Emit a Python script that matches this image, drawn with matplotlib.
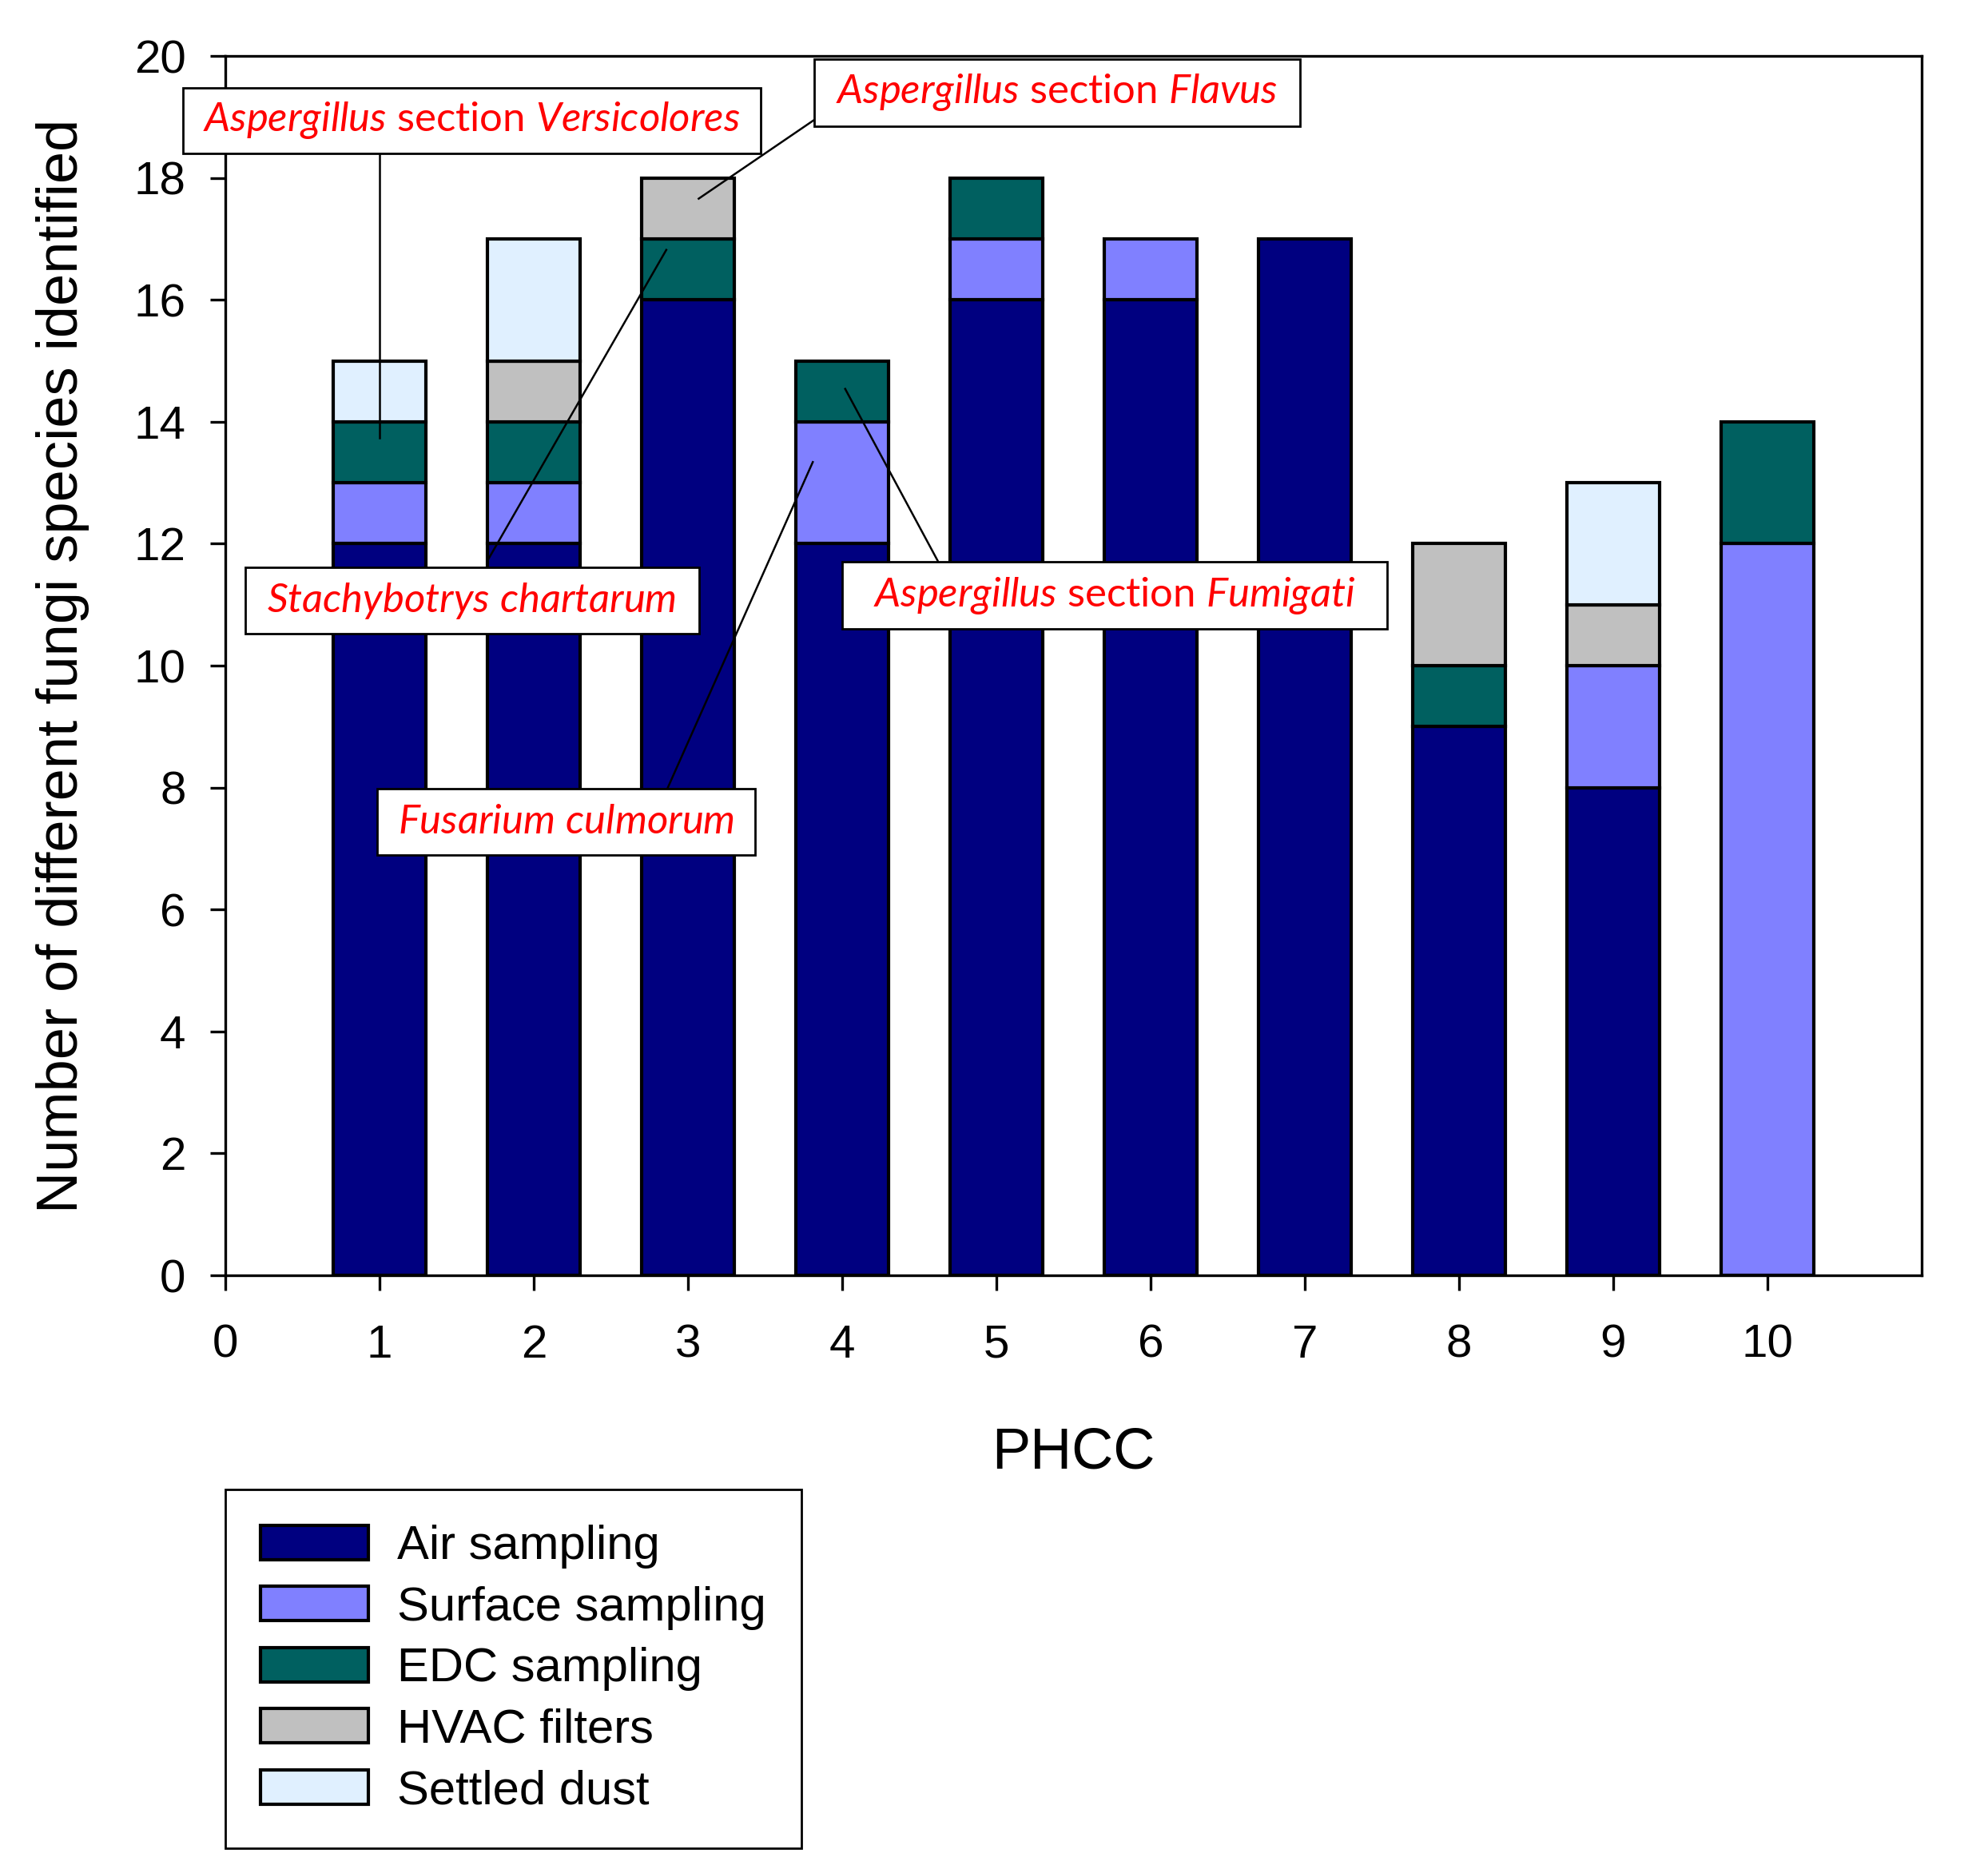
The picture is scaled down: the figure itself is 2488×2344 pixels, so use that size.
import matplotlib
matplotlib.use('Agg')
import matplotlib.pyplot as plt
from matplotlib.patches import Rectangle
import numpy as np

# PHCC sites and number of fungal species per sampling method
phcc = [1, 2, 3, 4, 5, 6, 7, 8, 9, 10]
air_sampling = [12, 12, 16, 12, 16, 16, 17, 9, 8, 0]
surface_sampling = [1, 1, 0, 2, 1, 1, 0, 0, 2, 12]
edc_sampling = [1, 1, 1, 1, 1, 0, 0, 1, 0, 2]
hvac_filters = [0, 1, 1, 0, 0, 0, 0, 2, 1, 0]
settled_dust = [1, 2, 0, 0, 0, 0, 0, 0, 2, 0]

series_names = ['Air sampling', 'Surface sampling', 'EDC sampling', 'HVAC filters', 'Settled dust']
series_colors = ['#000080', '#8080FF', '#006060', '#C0C0C0', '#E0F0FF']

x_ticks = [0, 1, 2, 3, 4, 5, 6, 7, 8, 9, 10]
y_ticks = [0, 2, 4, 6, 8, 10, 12, 14, 16, 18, 20]

plt.rcParams['font.family'] = ['Liberation Sans', 'DejaVu Sans']
plt.rcParams['mathtext.fontset'] = 'custom'
plt.rcParams['mathtext.rm'] = 'Lato'
plt.rcParams['mathtext.it'] = 'Lato:italic'

fig = plt.figure(figsize=(12.44, 11.72), dpi=200)
ax = fig.add_axes([0.1133, 0.3191, 0.8533, 0.6510])

# Stacked bars
bottom = np.zeros(len(phcc))
handles = []
for name, vals, col in zip(series_names,
                           [air_sampling, surface_sampling, edc_sampling, hvac_filters, settled_dust],
                           series_colors):
    vals = np.array(vals, dtype=float)
    mask = vals > 0
    b = ax.bar(np.array(phcc)[mask], vals[mask], width=0.6, bottom=bottom[mask],
               color=col, edgecolor='black', linewidth=1.5, label=name, zorder=2)
    handles.append(b)
    bottom += vals

ax.set_xlim(0, 11)
ax.set_ylim(0, 20)
ax.set_xticks(x_ticks)
ax.set_yticks(y_ticks)
ax.tick_params(axis='both', direction='out', length=6.8, width=1.2, labelsize=21)
ax.tick_params(axis='x', pad=15)
ax.tick_params(axis='y', pad=11)
for s in ax.spines.values():
    s.set_linewidth(1.2)

ax.set_xlabel('PHCC', fontsize=26, labelpad=27)
ax.set_ylabel('Number of different fungi species identified', fontsize=26, labelpad=20)

# Annotation boxes: (text, x0, x1, y0, y1) in data units, plus leader lines
notes = [
    (r'$\mathit{Aspergillus}$ section $\mathit{Versicolores}$', -0.274, 3.473, 18.40, 19.48),
    (r'$\mathit{Aspergillus}$ section $\mathit{Flavus}$', 3.818, 6.967, 18.85, 19.95),
    (r'$\mathit{Stachybotrys\ chartarum}$', 0.129, 3.071, 10.52, 11.61),
    (r'$\mathit{Aspergillus}$ section $\mathit{Fumigati}$', 3.999, 7.536, 10.60, 11.70),
    (r'$\mathit{Fusarium\ culmorum}$', 0.986, 3.434, 6.89, 7.98),
]
leaders = [
    ((1.0, 18.40), (1.0, 13.74)),
    ((3.818, 18.95), (3.07, 17.66)),
    ((1.70, 11.72), (2.86, 16.82)),
    ((4.62, 11.72), (4.02, 14.54)),
    ((2.87, 8.0), (3.81, 13.34)),
]

for (p0, p1) in leaders:
    ax.plot([p0[0], p1[0]], [p0[1], p1[1]], color='black', lw=0.9, zorder=3, clip_on=False)

for text, x0, x1, y0, y1 in notes:
    ax.add_patch(Rectangle((x0, y0), x1 - x0, y1 - y0, facecolor='white', edgecolor='black',
                           linewidth=1.0, zorder=4, clip_on=False))
    ax.text((x0 + x1) / 2, (y0 + y1) / 2, text, color='red', fontsize=18.3, family='Lato',
            ha='center', va='center', zorder=5)

# Legend below the chart
leg = fig.legend(handles=handles, loc='upper left', bbox_to_anchor=(0.1133, 0.2048),
                 bbox_transform=fig.transFigure, borderaxespad=0, fontsize=21.5,
                 handlelength=2.26, handleheight=0.74, handletextpad=0.61,
                 labelspacing=0.36, borderpad=0.74, fancybox=False, edgecolor='black',
                 framealpha=1)
leg.get_frame().set_linewidth(1.0)

plt.savefig('out.png', dpi=200)
